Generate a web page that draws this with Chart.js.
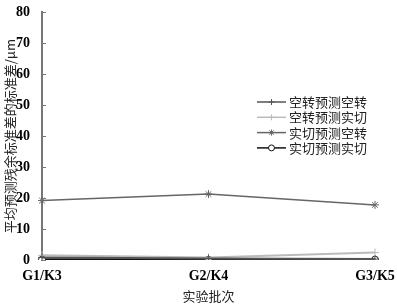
<!DOCTYPE html>
<html>
<head>
<meta charset="utf-8">
<script src="https://cdn.jsdelivr.net/npm/chart.js@4.4.1/dist/chart.umd.min.js"></script>
<style>
  html, body { margin: 0; padding: 0; background: #fff; }
  #wrap { width: 397px; height: 308px; }
</style>
</head>
<body>
<div id="wrap"><canvas id="chart" width="397" height="308"></canvas></div>
<script>
// --- Data ---
const batches = ['G1/K3', 'G2/K4', 'G3/K5'];
const kongKong = [0.8, 0.5, 0.3];    // 空转预测空转
const kongShi = [1.5, 0.8, 2.4];     // 空转预测实切
const shiKong = [19.2, 21.3, 17.8];  // 实切预测空转
const shiShi = [0.1, 0.1, 0.1];      // 实切预测实切
const seriesNames = ['空转预测空转', '空转预测实切', '实切预测空转', '实切预测实切'];
const yTicks = [0, 10, 20, 30, 40, 50, 60, 70, 80];

const serif = '"Liberation Serif", "Noto Sans CJK SC", serif';

// legend drawn inside the plot, top-right
const innerLegend = {
  id: 'innerLegend',
  afterDraw(chart) {
    const ctx = chart.ctx;
    const x0 = 257, x1 = 286, y0 = 102, step = 15.3;
    ctx.save();
    chart.data.datasets.forEach((ds, i) => {
      const y = y0 + i * step;
      ctx.strokeStyle = ds.borderColor;
      ctx.lineWidth = Math.min(ds.borderWidth, 1.5);
      ctx.beginPath();
      ctx.moveTo(x0, y);
      ctx.lineTo(x1, y);
      ctx.stroke();
      ctx.fillStyle = ds.pointBackgroundColor;
      ctx.strokeStyle = ds.pointBorderColor;
      ctx.lineWidth = 1;
      Chart.helpers.drawPoint(ctx, {
        pointStyle: ds.pointStyle,
        radius: 3,
        borderWidth: 1
      }, (x0 + x1) / 2, y);
      ctx.fillStyle = '#222';
      ctx.font = '13px "Noto Sans CJK SC", sans-serif';
      ctx.textBaseline = 'middle';
      ctx.fillText(ds.label, x1 + 3, y);
    });
    ctx.restore();
  }
};

// small inward ticks on the y axis
const innerTicks = {
  id: 'innerTicks',
  afterDraw(chart) {
    const ctx = chart.ctx;
    const ys = chart.scales.y;
    ctx.save();
    ctx.strokeStyle = '#777';
    ctx.lineWidth = 1;
    yTicks.forEach(v => {
      const py = Math.round(ys.getPixelForValue(v)) + 0.5;
      ctx.beginPath();
      ctx.moveTo(ys.right, py);
      ctx.lineTo(ys.right + 4, py);
      ctx.stroke();
    });
    ctx.restore();
  }
};

function mkSet(label, data, color, width, style, radius) {
  return {
    label: label,
    data: data,
    borderColor: color,
    backgroundColor: color,
    borderWidth: width,
    pointStyle: style,
    pointRadius: radius,
    pointBorderWidth: 1,
    pointBorderColor: color,
    pointBackgroundColor: style === 'circle' ? '#fff' : color,
    tension: 0
  };
}

new Chart(document.getElementById('chart'), {
  type: 'line',
  data: {
    labels: batches,
    datasets: [
      mkSet(seriesNames[0], kongKong, '#555', 2, 'cross', 4),
      mkSet(seriesNames[1], kongShi, '#bbb', 2, 'cross', 4),
      mkSet(seriesNames[2], shiKong, '#666', 1.5, 'star', 4),
      mkSet(seriesNames[3], shiShi, '#111', 3, 'circle', 3.5)
    ]
  },
  options: {
    responsive: false,
    animation: false,
    layout: { padding: { top: 3, right: 22, left: 0, bottom: 0 } },
    plugins: {
      legend: { display: false },
      tooltip: { enabled: false }
    },
    scales: {
      x: {
        type: 'category',
        offset: false,
        grid: { display: false },
        border: { display: false },
        ticks: {
          color: '#000',
          font: { family: serif, size: 14, weight: 'bold' },
          padding: 0,
          maxRotation: 0
        },
        title: {
          display: true,
          text: '实验批次',
          color: '#222',
          font: { family: '"Noto Sans CJK SC", sans-serif', size: 13 },
          padding: { top: 1 }
        },
        afterFit(scale) { scale.height = 48; }
      },
      y: {
        min: 0,
        max: 80,
        afterBuildTicks(scale) { scale.ticks = yTicks.map(v => ({ value: v })); },
        grid: { display: false },
        border: { display: true, color: '#777', width: 2 },
        ticks: {
          color: '#000',
          font: { family: serif, size: 14, weight: 'bold' },
          padding: 4
        },
        title: {
          display: true,
          text: '平均预测残余标准差的标准差/μm',
          color: '#222',
          font: { family: '"Noto Sans CJK SC", sans-serif', size: 13 },
          padding: { top: 2, bottom: 0 }
        },
        afterFit(scale) { scale.width = 42; }
      }
    }
  },
  plugins: [innerLegend, innerTicks]
});
</script>
</body>
</html>
